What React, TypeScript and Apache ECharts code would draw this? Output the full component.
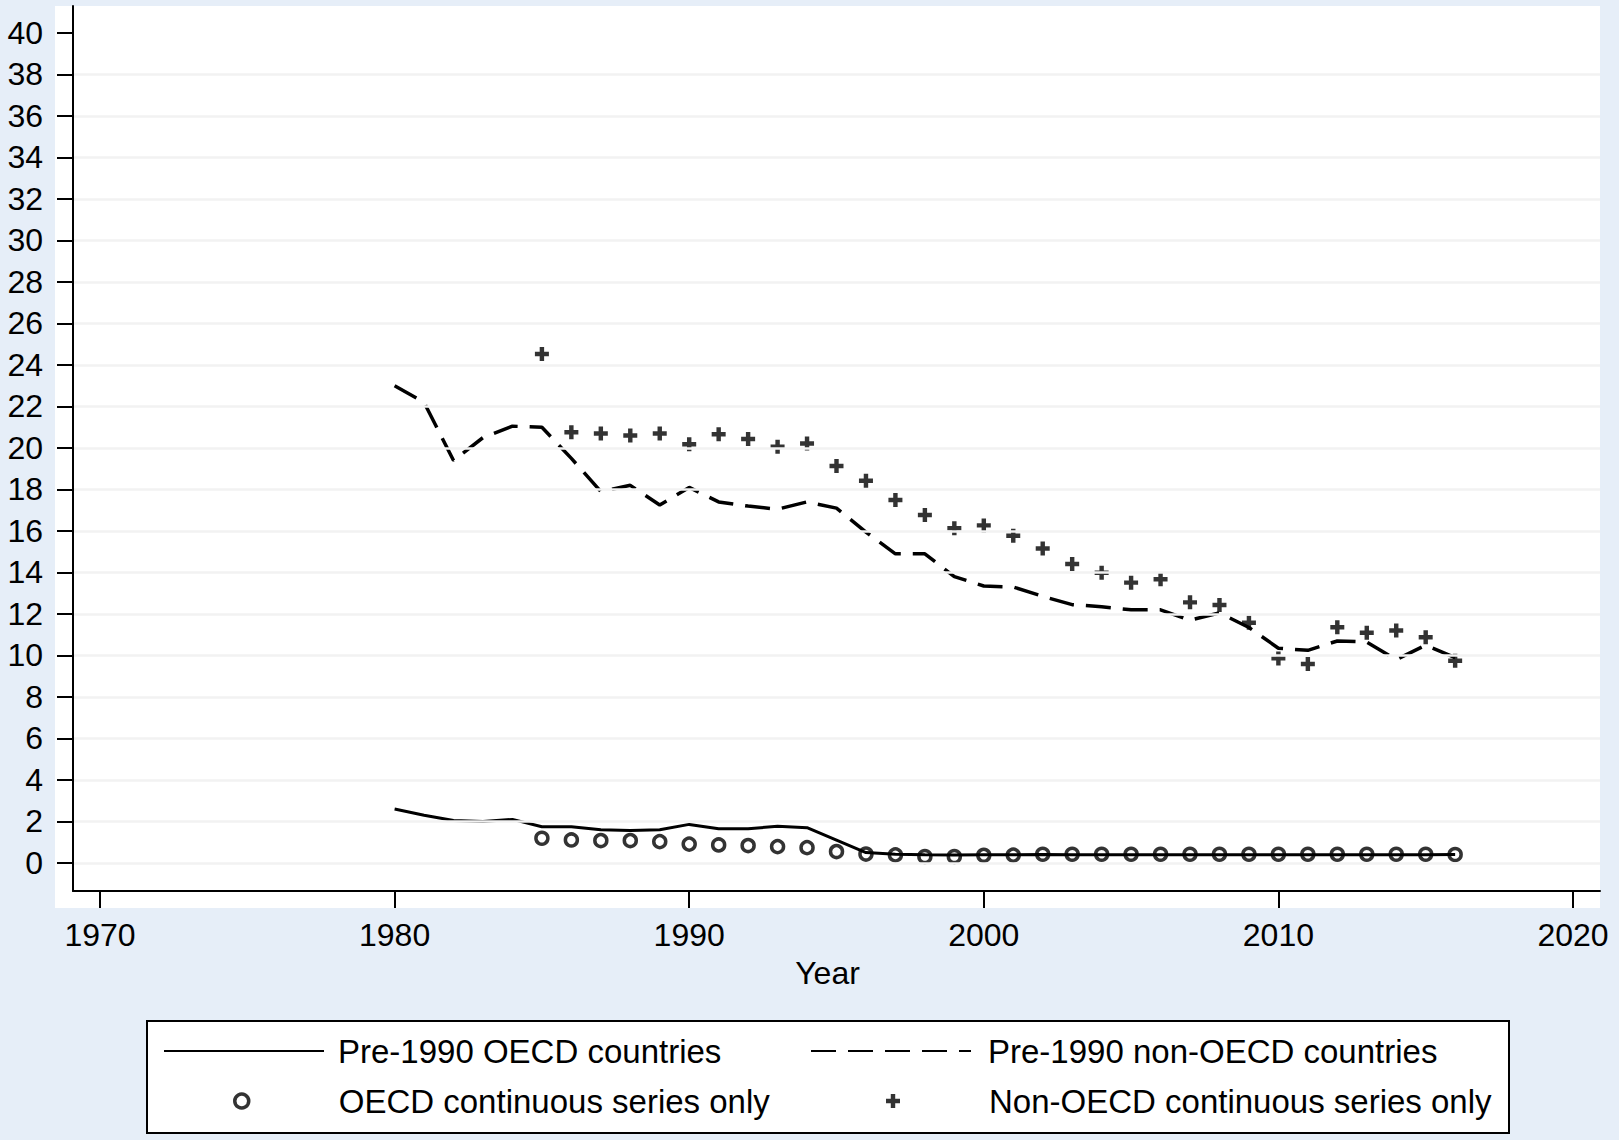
import { useEffect, useRef } from 'react';
import * as echarts from 'echarts';

// years on the two line series
const lineYears = [
  1980, 1981, 1982, 1983, 1984, 1985, 1986, 1987, 1988, 1989,
  1990, 1991, 1992, 1993, 1994, 1995, 1996, 1997, 1998, 1999,
  2000, 2001, 2002, 2003, 2004, 2005, 2006, 2007, 2008, 2009,
  2010, 2011, 2012, 2013, 2014, 2015, 2016
];
const oecdLine = [
  2.6, 2.3, 2.05, 2.0, 2.1, 1.75, 1.75, 1.6, 1.56, 1.6,
  1.86, 1.65, 1.65, 1.77, 1.7, 1.1, 0.5, 0.42, 0.4, 0.39,
  0.4, 0.4, 0.41, 0.4, 0.4, 0.4, 0.4, 0.4, 0.4, 0.4,
  0.4, 0.4, 0.4, 0.4, 0.4, 0.4, 0.41
];
const nonOecdLine = [
  23.0, 22.2, 19.4, 20.5, 21.05, 21.0, 19.5, 17.9, 18.2, 17.25,
  18.1, 17.4, 17.2, 17.05, 17.4, 17.1, 15.95, 14.9, 14.9, 13.8,
  13.35, 13.3, 12.85, 12.45, 12.35, 12.2, 12.2, 11.7, 12.05, 11.35,
  10.35, 10.25, 10.7, 10.65, 9.8, 10.5, 9.9
];

// years on the two scatter series
const scatterYears = [
  1985, 1986, 1987, 1988, 1989, 1990, 1991, 1992, 1993, 1994,
  1995, 1996, 1997, 1998, 1999, 2000, 2001, 2002, 2003, 2004,
  2005, 2006, 2007, 2008, 2009, 2010, 2011, 2012, 2013, 2014,
  2015, 2016
];
const oecdScatter = [
  1.19, 1.11, 1.08, 1.08, 1.03, 0.91, 0.87, 0.84, 0.79, 0.74,
  0.55, 0.43, 0.39, 0.31, 0.31, 0.37, 0.38, 0.42, 0.42, 0.42,
  0.42, 0.42, 0.42, 0.42, 0.42, 0.42, 0.42, 0.42, 0.42, 0.42,
  0.42, 0.41
];
const nonOecdScatter = [
  24.53, 20.76, 20.7, 20.6, 20.7, 20.18, 20.66, 20.43, 20.06, 20.22,
  19.13, 18.42, 17.49, 16.77, 16.13, 16.27, 15.77, 15.16, 14.41, 13.99,
  13.51, 13.67, 12.56, 12.43, 11.58, 9.86, 9.59, 11.36, 11.1, 11.2,
  10.88, 9.75
];

const xTicks = [1970, 1980, 1990, 2000, 2010, 2020];
const yTicks = [0, 2, 4, 6, 8, 10, 12, 14, 16, 18, 20, 22, 24, 26, 28, 30, 32, 34, 36, 38, 40];
const gridValues = [0, 2, 4, 6, 8, 10, 12, 14, 16, 18, 20, 22, 24, 26, 28, 30, 32, 34, 36, 38];

const FONT = "'Liberation Sans', Arial, Helvetica, sans-serif";
const PLUS = 'path://M4.1,0h3.8v4.1h4.1v3.8h-4.1v4.1h-3.8v-4.1h-4.1v-3.8h4.1z';

const pairs = (xs: number[], ys: number[]) => xs.map((x, i) => [x, ys[i]]);

const legendItem = (
  name: string,
  left: number,
  top: number,
  itemWidth: number,
  itemHeight: number,
  padLeft: number,
  itemStyle?: object
) => ({
  data: [name],
  left,
  top,
  padding: 0,
  itemWidth,
  itemHeight,
  selectedMode: false,
  ...(itemStyle ? { itemStyle } : {}),
  textStyle: {
    color: '#000',
    fontSize: 33,
    fontFamily: FONT,
    lineHeight: 34,
    padding: [0, 0, 0, padLeft]
  }
});

const noSymbol = { color: 'rgba(0,0,0,0)', borderWidth: 0, opacity: 0 };
const ringSymbol = { color: 'rgba(0,0,0,0)', borderColor: '#000', borderWidth: 3.5 };

const App = () => {
  const chartRef = useRef<HTMLDivElement>(null);

  useEffect(() => {
    if (!chartRef.current) return;
    const chart = echarts.init(chartRef.current, null, { renderer: 'svg' });

    const option: any = {
      animation: false,
      backgroundColor: '#e6eef8',
      graphic: [
        {
          type: 'rect',
          z: -10,
          shape: { x: 55, y: 6, width: 1545, height: 902 },
          style: { fill: '#ffffff' }
        },
        {
          type: 'rect',
          z: -10,
          shape: { x: 147, y: 1021, width: 1362, height: 112 },
          style: { fill: '#ffffff', stroke: '#000', lineWidth: 2 }
        }
      ],
      grid: { left: 73, top: 6, width: 1527, height: 885, outerBoundsMode: 'none' },
      xAxis: {
        type: 'value',
        min: 1969.083,
        max: 2020.917,
        z: 5,
        name: 'Year',
        nameLocation: 'middle',
        nameGap: 66,
        nameTextStyle: { color: '#000', fontSize: 32, fontFamily: FONT, padding: [0, 18, 0, 0] },
        axisLine: { onZero: false, lineStyle: { color: '#000', width: 2 } },
        axisTick: { customValues: xTicks, length: 17, lineStyle: { color: '#000', width: 2 } },
        axisLabel: {
          customValues: xTicks,
          formatter: (v: number) => String(v),
          margin: 28,
          color: '#000',
          fontSize: 32,
          fontFamily: FONT
        },
        splitLine: { show: false }
      },
      yAxis: {
        type: 'value',
        min: -1.35,
        max: 41.3,
        z: 5,
        axisLine: { show: true, onZero: false, lineStyle: { color: '#000', width: 2 } },
        axisTick: { show: true, customValues: yTicks, length: 16, lineStyle: { color: '#000', width: 2 } },
        axisLabel: {
          customValues: yTicks,
          formatter: (v: number) => String(v),
          margin: 30,
          color: '#000',
          fontSize: 32,
          fontFamily: FONT
        },
        splitLine: { show: false }
      },
      legend: [
        legendItem('Pre-1990 OECD countries', 163, 1034, 160, 14, 9, noSymbol),
        legendItem('Pre-1990 non-OECD countries', 810, 1034, 160, 14, 12, noSymbol),
        legendItem('OECD continuous series only', 233, 1084, 14, 14, 85, ringSymbol),
        legendItem('Non-OECD continuous series only', 886, 1084, 14, 14, 84)
      ],
      series: [
        {
          // horizontal grid lines
          type: 'line',
          data: [],
          silent: true,
          z: 1,
          markLine: {
            silent: true,
            symbol: ['none', 'none'],
            label: { show: false },
            lineStyle: { color: '#f2f2f2', width: 2.5, type: 'solid' },
            data: gridValues.map((v) => ({ yAxis: v }))
          }
        },
        {
          name: 'Pre-1990 OECD countries',
          type: 'line',
          data: pairs(lineYears, oecdLine),
          symbol: 'none',
          z: 3,
          itemStyle: { color: '#000' },
          lineStyle: { color: '#000', width: 3 }
        },
        {
          name: 'Pre-1990 non-OECD countries',
          type: 'line',
          data: pairs(lineYears, nonOecdLine),
          symbol: 'none',
          z: 3,
          itemStyle: { color: '#000' },
          lineStyle: { color: '#000', width: 3.5, type: [25, 12] }
        },
        {
          name: 'OECD continuous series only',
          type: 'scatter',
          data: pairs(scatterYears, oecdScatter),
          symbol: 'circle',
          symbolSize: 12,
          z: 4,
          itemStyle: { color: 'rgba(0,0,0,0)', borderColor: '#000', borderWidth: 3.5 }
        },
        {
          name: 'Non-OECD continuous series only',
          type: 'scatter',
          data: pairs(scatterYears, nonOecdScatter),
          symbol: PLUS,
          symbolSize: 14,
          z: 4,
          itemStyle: { color: '#000' }
        }
      ]
    };

    chart.setOption(option);

    return () => {
      chart.dispose();
    };
  }, []);

  return (
    <div
      ref={chartRef}
      style={{ position: 'absolute', left: 0, top: 0, width: '1619px', height: '1140px' }}
    />
  );
};

export default App;
